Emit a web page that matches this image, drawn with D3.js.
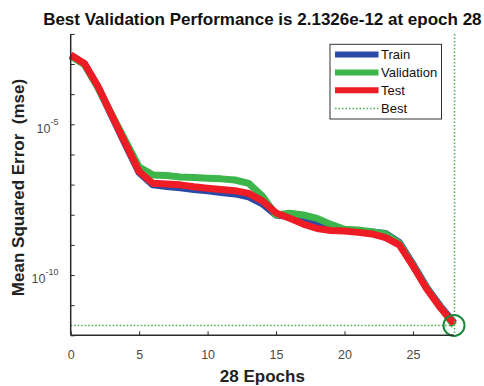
<!DOCTYPE html>
<html><head><meta charset="utf-8">
<script src="https://cdn.jsdelivr.net/npm/d3@7/dist/d3.min.js"></script>
<style>
html,body{margin:0;padding:0;background:#fff;}
svg{display:block;font-family:"Liberation Sans",Arial,sans-serif;}
</style></head>
<body>
<svg id="chart" width="484" height="386"></svg>
<script>
const epochs = d3.range(0, 29);
const train = [1.95e-3,1.0e-3,1.7e-4,1.9e-5,2.1e-6,2.5e-7,9.8e-8,8.7e-8,7.8e-8,6.9e-8,6.2e-8,5.5e-8,4.9e-8,3.9e-8,2.3e-8,9.8e-9,8.7e-9,6.5e-9,4.6e-9,3.6e-9,3.1e-9,2.9e-9,2.7e-9,2.4e-9,1.2e-9,2.3e-10,3.9e-11,9.3e-12,2.6e-12];
const validation = [1.85e-3,9.6e-4,1.6e-4,2.1e-5,2.8e-6,3.8e-7,2.1e-7,2.0e-7,1.8e-7,1.73e-7,1.62e-7,1.55e-7,1.42e-7,1.1e-7,4.2e-8,9.8e-9,1.12e-8,9.8e-9,7.6e-9,4.8e-9,3.3e-9,3.1e-9,2.75e-9,2.3e-9,1.12e-9,2.1e-10,3.7e-11,8.7e-12,2.1326e-12];
const test = [2.0e-3,1.05e-3,1.8e-4,2.0e-5,2.3e-6,2.7e-7,1.1e-7,1.05e-7,9.8e-8,8.5e-8,7.6e-8,6.9e-8,6.3e-8,5.1e-8,2.9e-8,1.15e-8,7.6e-9,4.9e-9,3.5e-9,3.0e-9,2.9e-9,2.6e-9,2.3e-9,1.75e-9,1.0e-9,2.0e-10,3.5e-11,8.3e-12,2.4e-12];
const bestEpoch = 28;
const bestPerf = 2.1326e-12;
const xTicks = [0,5,10,15,20,25];
const yTickExps = [-12,-11,-10,-9,-8,-7,-6,-5,-4,-3,-2];
const yLabelExps = [-5,-10];
const seriesNames = ["Train","Validation","Test"];
const seriesColors = ["#2b4aa8","#3db54a","#ee1c25"];
const titleText = "Best Validation Performance is 2.1326e-12 at epoch 28";
const xLabelText = "28 Epochs";
const yLabelText = "Mean Squared Error  (mse)";

const svg = d3.select("#chart");
const x = d3.scaleLinear().domain([0,28]).range([70.7,454]);
const y = d3.scaleLog().domain([1e-12,1e-2]).range([335.3,33.9]);
const axisColor = "#2a2a2a", tickTextColor = "#4a4a4a";

// series
const line = d3.line().x((d,i)=>x(epochs[i])).y(d=>y(d));
[train, validation, test].forEach((s,k)=>{
  svg.append("path").attr("d", line(s)).attr("fill","none")
    .attr("stroke", seriesColors[k]).attr("stroke-width",7)
    .attr("stroke-linejoin","round").attr("stroke-linecap","butt");
});

// best lines
const bestColor = "#45b04c";
const bx = Math.round(x(bestEpoch)) + 0.5, by = Math.round(y(bestPerf)) + 0.5;
svg.append("line").attr("x1",bx).attr("x2",bx).attr("y1",y.range()[1]).attr("y2",y.range()[0])
  .attr("stroke",bestColor).attr("stroke-width",1.5).attr("stroke-dasharray","1.5,2");
svg.append("line").attr("x1",x.range()[0]).attr("x2",bx).attr("y1",by).attr("y2",by)
  .attr("stroke",bestColor).attr("stroke-width",1.5).attr("stroke-dasharray","1.5,2");
svg.append("circle").attr("cx",x(bestEpoch)).attr("cy",y(bestPerf)).attr("r",10.5)
  .attr("fill","none").attr("stroke","#1b8a3a").attr("stroke-width",2);

// axes
const xAxis = d3.axisBottom(x).tickValues(xTicks).tickSize(-4).tickPadding(0).tickFormat(d3.format("d"));
const gx = svg.append("g").attr("transform",`translate(0,${y.range()[0]})`).call(xAxis);
gx.select(".domain").attr("d",`M${x.range()[0]},0H${x.range()[1]}`).attr("stroke",axisColor).attr("stroke-width",1.5);
gx.selectAll(".tick line").attr("stroke",axisColor);
gx.selectAll(".tick text").attr("y",23.5).attr("dy",null).attr("fill",tickTextColor)
  .style("font-size","12.5px").style("font-family","Liberation Sans, Arial, sans-serif");

const yAxis = d3.axisLeft(y).tickValues(yTickExps.map(e=>Math.pow(10,e))).tickSize(-4).tickFormat("");
const gy = svg.append("g").attr("transform",`translate(${x.range()[0]},0)`).call(yAxis);
gy.select(".domain").attr("d",`M0,${y.range()[0]}V${y.range()[1]}`).attr("stroke",axisColor).attr("stroke-width",1.5);
gy.selectAll(".tick line").attr("stroke",axisColor);

yLabelExps.forEach(e=>{
  const t = svg.append("text").attr("x",58.5).attr("y",y(Math.pow(10,e))+8.2)
    .attr("text-anchor","end").attr("fill",tickTextColor).style("font-size","12.5px");
  t.append("tspan").text("10");
  t.append("tspan").attr("dy",-8).style("font-size","9px").text(String(e));
});

// titles
svg.append("text").attr("x",(x.range()[0]+x.range()[1])/2).attr("y",25).attr("text-anchor","middle")
  .style("font-size","17px").style("font-weight","bold").attr("fill","#111").text(titleText);
svg.append("text").attr("x",(x.range()[0]+x.range()[1])/2).attr("y",381.5).attr("text-anchor","middle")
  .style("font-size","17px").style("font-weight","bold").attr("fill","#222").text(xLabelText);
svg.append("text").attr("transform",`translate(24,187.5) rotate(-90)`).attr("text-anchor","middle")
  .style("font-size","17px").style("font-weight","bold").style("white-space","pre").attr("fill","#222").text(yLabelText);

// legend
const lg = svg.append("g");
lg.append("rect").attr("x",330).attr("y",44.3).attr("width",111.5).attr("height",74.7)
  .attr("fill","#fff").attr("stroke","#333").attr("stroke-width",1);
const legendRows = [
  {name:seriesNames[0], color:seriesColors[0], y:54.5, dotted:false},
  {name:seriesNames[1], color:seriesColors[1], y:72.5, dotted:false},
  {name:seriesNames[2], color:seriesColors[2], y:90.3, dotted:false},
  {name:"Best", color:bestColor, y:108.5, dotted:true}
];
legendRows.forEach(r=>{
  const l = lg.append("line").attr("x1",335).attr("x2",378.5).attr("y1",r.y).attr("y2",r.y).attr("stroke",r.color);
  if(r.dotted) l.attr("stroke-width",1.5).attr("stroke-dasharray","1.5,2");
  else l.attr("stroke-width",6);
  lg.append("text").attr("x",381).attr("y",r.y+4.6).style("font-size","13px").attr("fill","#111").text(r.name);
});
</script>
</body></html>
